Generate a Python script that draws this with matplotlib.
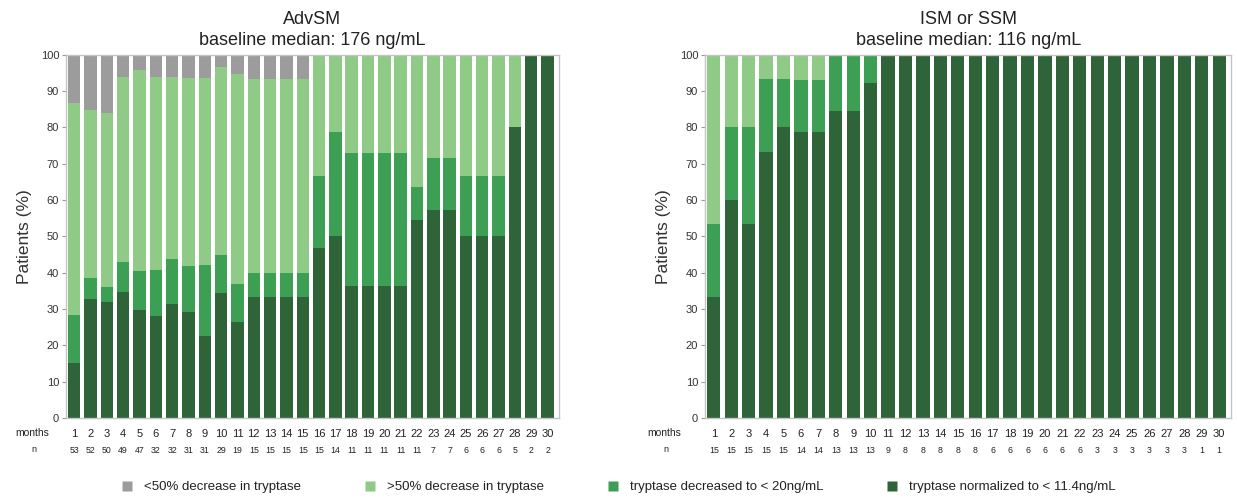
import numpy as np
import matplotlib
matplotlib.use("Agg")
from matplotlib import pyplot as plt
from matplotlib.lines import Line2D
from matplotlib import transforms

plt.rcParams["font.family"] = ["Liberation Sans", "DejaVu Sans"]

months = list(range(1, 31))

# AdvSM: percent of patients per response category
adv_n = [53, 52, 50, 49, 47, 32, 32, 31, 31, 29, 19, 15, 15, 15, 15,
         15, 14, 11, 11, 11, 11, 11, 7, 7, 6, 6, 6, 5, 2, 2]
adv_normal = [15.1, 32.7, 32.0, 34.7, 29.8, 28.1, 31.3, 29.0, 22.6, 34.5,
              26.3, 33.3, 33.3, 33.3, 33.3, 46.7, 50.0, 36.4, 36.4, 36.4,
              36.4, 54.5, 57.1, 57.1, 50.0, 50.0, 50.0, 80.0, 100, 100]
adv_below20 = [13.2, 5.8, 4.0, 8.2, 10.6, 12.5, 12.5, 12.9, 19.4, 10.3,
               10.5, 6.7, 6.7, 6.7, 6.7, 20.0, 28.6, 36.4, 36.4, 36.4,
               36.4, 9.1, 14.3, 14.3, 16.7, 16.7, 16.7, 0, 0, 0]
adv_over50 = [58.5, 46.2, 48.0, 51.0, 55.3, 53.1, 50.0, 51.6, 51.6, 51.7,
              57.9, 53.3, 53.3, 53.3, 53.3, 33.3, 21.4, 27.3, 27.3, 27.3,
              27.3, 36.4, 28.6, 28.6, 33.3, 33.3, 33.3, 20.0, 0, 0]
adv_under50 = [13.2, 15.4, 16.0, 6.1, 4.3, 6.3, 6.3, 6.5, 6.5, 3.4,
               5.3, 6.7, 6.7, 6.7, 6.7, 0, 0, 0, 0, 0,
               0, 0, 0, 0, 0, 0, 0, 0, 0, 0]

# ISM or SSM
ism_n = [15, 15, 15, 15, 15, 14, 14, 13, 13, 13, 9, 8, 8, 8, 8,
         8, 6, 6, 6, 6, 6, 6, 3, 3, 3, 3, 3, 3, 1, 1]
ism_normal = [33.3, 60.0, 53.3, 73.3, 80.0, 78.6, 78.6, 84.6, 84.6, 92.3] + [100] * 20
ism_below20 = [20.0, 20.0, 26.7, 20.0, 13.3, 14.3, 14.3, 15.4, 15.4, 7.7] + [0] * 20
ism_over50 = [46.7, 20.0, 20.0, 6.7, 6.7, 7.1, 7.1, 0, 0, 0] + [0] * 20
ism_under50 = [0] * 30

labels = ["<50% decrease in tryptase", ">50% decrease in tryptase",
          "tryptase decreased to < 20ng/mL", "tryptase normalized to < 11.4ng/mL"]
colors = ["#9c9c9c", "#8fca86", "#3c9f53", "#2f6438"]

fig = plt.figure(figsize=(12.37, 5.01), dpi=100)
ax1 = fig.add_axes([0.0534, 0.166, 0.3985, 0.725])
ax2 = fig.add_axes([0.570, 0.166, 0.4255, 0.725])


def draw(ax, normal, below20, over50, under50, n, title):
    x = np.array(months)
    stack = [normal, below20, over50, under50]
    bottom = np.zeros(len(x))
    for vals, c in zip(stack, colors[::-1]):
        vals = np.array(vals, dtype=float)
        ax.bar(x, vals, bottom=bottom, width=0.76, color=c,
               edgecolor="none", zorder=2)
        bottom += vals
    ax.set_xlim(0.5, 30.7)
    ax.set_ylim(0, 100)
    ax.set_yticks(range(0, 101, 10))
    ax.set_xticks([])
    ax.tick_params(axis="y", labelsize=8, length=3, color="#999999",
                   labelcolor="#333333", pad=2)
    for s in ax.spines.values():
        s.set_color("#c4c4c4")
        s.set_linewidth(1.0)
    ax.set_ylabel("Patients (%)", fontsize=12.5, color="#333333", labelpad=6)
    ax.set_title(title, fontsize=13, color="#222222", pad=7, linespacing=1.3)

    trans = transforms.blended_transform_factory(ax.transData, ax.transAxes)
    for m, k in zip(months, n):
        ax.text(m, -0.045, str(m), transform=trans, ha="center", va="center",
                fontsize=8, color="#222222")
        ax.text(m, -0.09, str(k), transform=trans, ha="center", va="center",
                fontsize=6.3, color="#222222")


draw(ax1, adv_normal, adv_below20, adv_over50, adv_under50, adv_n,
     "AdvSM\nbaseline median: 176 ng/mL")
draw(ax2, ism_normal, ism_below20, ism_over50, ism_under50, ism_n,
     "ISM or SSM\nbaseline median: 116 ng/mL")

# row headers left of the axes
fig.text(32 / 1237, 1 - 433 / 501, "months", ha="center", va="center",
         fontsize=7.5, color="#222222")
fig.text(34 / 1237, 1 - 449 / 501, "n", ha="center", va="center",
         fontsize=6.5, color="#222222")
fig.text(664 / 1237, 1 - 433 / 501, "months", ha="center", va="center",
         fontsize=7.5, color="#222222")
fig.text(666 / 1237, 1 - 449 / 501, "n", ha="center", va="center",
         fontsize=6.5, color="#222222")

handles = [Line2D([], [], marker="s", linestyle="none", markersize=7,
                  markerfacecolor=c, markeredgecolor="none") for c in colors]
fig.legend(handles, labels, loc="center", bbox_to_anchor=(0.497, 1 - 487 / 501),
           ncol=4, frameon=False, fontsize=9.5, handletextpad=0.3,
           columnspacing=4.2, labelcolor="#222222")

fig.savefig("out.png", dpi=100, facecolor="white")
